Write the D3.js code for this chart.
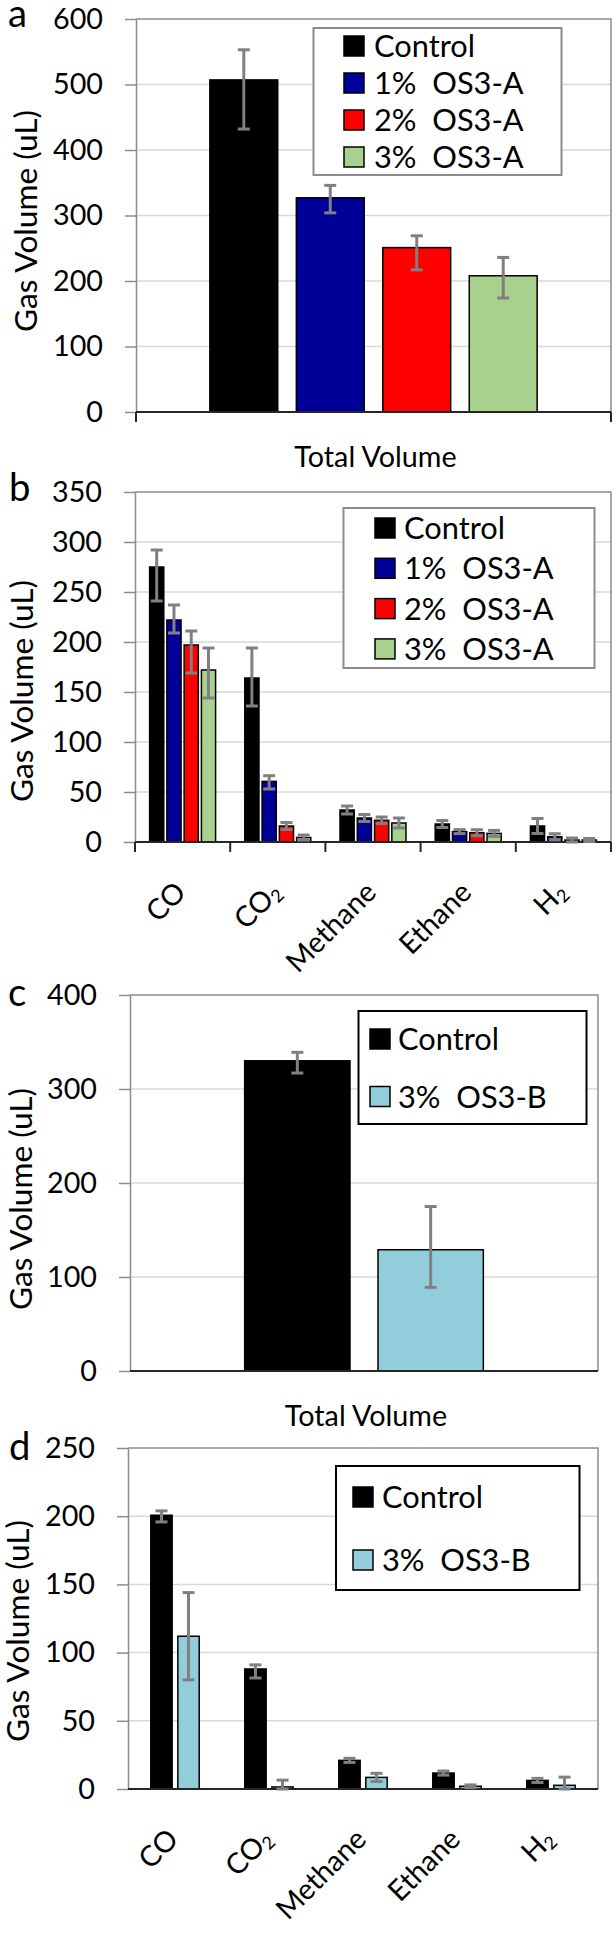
<!DOCTYPE html>
<html><head><meta charset="utf-8">
<script src="https://cdn.jsdelivr.net/npm/d3@7"></script>
<style>
body{margin:0;background:#fff}
svg{display:block}
text{font-family:Lato,'Open Sans',sans-serif;fill:#000}
</style>
</head><body><svg id="chart" width="616" height="1934"></svg>
<script>
// ---------------- DATA ----------------
const gasCategories = ["CO", "CO2", "Methane", "Ethane", "H2"];
const totalCategory = ["Total Volume"];
const seriesA = ["Control", "1%  OS3-A", "2%  OS3-A", "3%  OS3-A"];
const seriesB = ["Control", "3%  OS3-B"];
const yTicksA = [0, 100, 200, 300, 400, 500, 600];
const yTicksB = [0, 50, 100, 150, 200, 250, 300, 350];
const yTicksC = [0, 100, 200, 300, 400];
const yTicksD = [0, 50, 100, 150, 200, 250];
const yTitle = "Gas Volume (uL)";

// panel a : total volume, one value per series
const totalA = [507, 327, 251, 208];
const totalAErrUp = [46, 19, 18, 28];
const totalAErrDown = [75, 23, 34, 34];

// panel b : per series, values across gasCategories
const controlB = [275, 164, 32, 18, 16];
const controlBErrUp = [17, 30, 4, 3.5, 7.5];
const controlBErrDown = [34, 28, 4, 3.5, 7.5];
const os3a1B = [222, 60.6, 24, 10.4, 5.3];
const os3a1BErrUp = [15, 5.7, 3.5, 2, 3];
const os3a1BErrDown = [13, 7.6, 3.5, 2, 3];
const os3a2B = [197, 16, 21.7, 9.3, 2];
const os3a2BErrUp = [14, 3.5, 3.3, 3, 2];
const os3a2BErrDown = [28, 3.5, 3.3, 3, 2];
const os3a3B = [172, 4.5, 19, 8.6, 2];
const os3a3BErrUp = [22, 2.5, 5, 3, 1.5];
const os3a3BErrDown = [28, 2.5, 5, 3, 1.5];

// panel c : total volume
const totalC = [330, 129];
const totalCErrUp = [9, 46];
const totalCErrDown = [13, 40];

// panel d : per series, values across gasCategories
const controlD = [200.7, 88, 21, 11.7, 6.3];
const controlDErrUp = [3.2, 3, 1.5, 1.5, 1.5];
const controlDErrDown = [4.9, 6.6, 1.5, 1.5, 1.5];
const os3bD = [112, 1.5, 8.5, 2, 2.7];
const os3bDErrUp = [32, 5, 3, 1, 6];
const os3bDErrDown = [32, 5, 3, 1, 6];

// ---------------- STYLE ----------------
const colorsA = ["#000000", "#000099", "#ff0000", "#a9d18e"];
const colorsB = ["#000000", "#92cddc"];
const svg = d3.select("#chart");

// font sizes fitted to the widths seen in the reference
function fit(str, target) {
  const p = svg.append("text").attr("font-size", 100).style("white-space", "pre").text(str);
  const w = p.node().getComputedTextLength();
  p.remove();
  return 100 * target / w;
}
const FS_TICK = fit("600", 50);
const FS_LEG = fit("Control", 101);
const FS_TITLE = fit(yTitle, 222);
const FS_CAT = FS_TICK;
const FS_LETTER = fit("a", 19);

function catLabel(sel, label) {
  const m = label.match(/^(.*?)(\d)$/);
  if (m) {
    sel.text(m[1]);
    sel.append("tspan").attr("font-size", FS_CAT * 0.62).attr("dy", "0.2em").text(m[2]);
  } else sel.text(label);
}

function drawPanel(o) {
  const g = svg.append("g");
  const y = d3.scaleLinear().domain([0, o.yMax]).range([o.bottom, o.top]).clamp(true);
  const x0 = d3.scaleBand().domain(o.cats).range([o.left, o.right]).padding(0);
  const gw = x0.bandwidth() * o.groupFrac;
  const x1 = d3.scaleBand().domain(o.series).range([-gw / 2, gw / 2]).paddingInner(o.pad);

  // gridlines
  g.selectAll(".grid").data(o.ticks.filter(t => t > 0 && t < o.yMax)).join("line")
    .attr("x1", o.left).attr("x2", o.right)
    .attr("y1", d => y(d)).attr("y2", d => y(d))
    .attr("stroke", "#d9d9d9").attr("stroke-width", 1.5);
  // plot border (top/right)
  g.append("path").attr("d", `M${o.left},${y(o.yMax)}H${o.right}V${y(0)}`)
    .attr("fill", "none").attr("stroke", "#8c8c8c").attr("stroke-width", 1.5);

  // y axis
  const ax = g.append("g").attr("transform", `translate(${o.left},0)`)
    .call(d3.axisLeft(y).tickValues(o.ticks).tickSize(11).tickSizeOuter(0).tickPadding(22));
  ax.attr("font-size", FS_TICK).attr("font-family", "Lato, sans-serif");
  ax.select(".domain").attr("stroke", "#8c8c8c").attr("stroke-width", 1.5);
  ax.selectAll(".tick line").attr("stroke", "#8c8c8c").attr("stroke-width", 1.5);
  ax.selectAll(".tick text").attr("fill", "#000");

  // bars
  const cells = [];
  o.series.forEach((s, si) => o.cats.forEach((c, ci) => cells.push({
    s, c, si, v: o.values[si][ci], up: o.up[si][ci], dn: o.down[si][ci]
  })));
  g.selectAll(".bar").data(cells).join("rect")
    .attr("x", d => x0(d.c) + x0.bandwidth() / 2 + x1(d.s))
    .attr("width", x1.bandwidth())
    .attr("y", d => y(d.v))
    .attr("height", d => y(0) - y(d.v))
    .attr("fill", d => o.colors[d.si])
    .attr("stroke", "#000").attr("stroke-width", 1.5);

  // x axis line
  g.append("line").attr("x1", o.left).attr("x2", o.right).attr("y1", y(0)).attr("y2", y(0))
    .attr("stroke", "#262626").attr("stroke-width", 2);
  if (o.xTicks) {
    const bounds = o.cats.map(c => x0(c)).concat([o.right]);
    g.selectAll(".xt").data(bounds).join("line")
      .attr("x1", d => d).attr("x2", d => d).attr("y1", y(0)).attr("y2", y(0) + 10)
      .attr("stroke", "#262626").attr("stroke-width", 2);
  }

  // error bars
  const eb = g.selectAll(".eb").data(cells).join("g")
    .attr("transform", d => `translate(${x0(d.c) + x0.bandwidth() / 2 + x1(d.s) + x1.bandwidth() / 2},0)`)
    .attr("stroke", "#808080").attr("stroke-width", 3);
  eb.append("line").attr("y1", d => y(d.v + d.up)).attr("y2", d => y(d.v - d.dn));
  eb.append("line").attr("x1", -6).attr("x2", 6).attr("y1", d => y(d.v + d.up)).attr("y2", d => y(d.v + d.up));
  eb.append("line").attr("x1", -6).attr("x2", 6).attr("y1", d => y(d.v - d.dn)).attr("y2", d => y(d.v - d.dn));

  // category labels
  if (o.rotated) {
    o.cats.forEach(c => {
      const t = g.append("text").attr("font-size", FS_CAT).attr("text-anchor", "end")
        .attr("transform", `translate(${x0(c) + x0.bandwidth() / 2 + 5},${y(0) + 52}) rotate(-45)`);
      catLabel(t, c);
    });
  } else {
    o.cats.forEach(c => {
      g.append("text").attr("font-size", FS_TICK).attr("text-anchor", "middle")
        .attr("x", x0(c) + x0.bandwidth() / 2 + 2).attr("y", y(0) + 55).text(c);
    });
  }

  // y title
  g.append("text").attr("font-size", FS_TITLE).attr("text-anchor", "middle")
    .attr("transform", `translate(${o.titleX},${o.titleY}) rotate(-90)`).text(yTitle);

  // panel letter
  g.append("text").attr("font-size", FS_LETTER).attr("x", o.letterX).attr("y", o.letterY).text(o.letter);

  // legend
  const L = o.legend;
  g.append("rect").attr("x", L.x).attr("y", L.y).attr("width", L.w).attr("height", L.h)
    .attr("fill", "#fff").attr("stroke", L.stroke).attr("stroke-width", 2);
  const rows = g.selectAll(".lg").data(o.series).join("g")
    .attr("transform", (d, i) => `translate(0,${L.row0 + i * L.step})`);
  rows.append("rect").attr("x", L.sx).attr("y", -10).attr("width", 20).attr("height", 20)
    .attr("fill", (d, i) => o.colors[i]).attr("stroke", "#000").attr("stroke-width", 1.5);
  rows.append("text").attr("x", L.tx).attr("dy", "0.36em").attr("font-size", FS_LEG)
    .style("white-space", "pre").text(d => d);
}

drawPanel({
  letter: "a", letterX: 8, letterY: 27,
  top: 19, bottom: 412, left: 136, right: 611, yMax: 600, ticks: yTicksA,
  cats: totalCategory, series: seriesA, colors: colorsA,
  values: totalA.map(v => [v]), up: totalAErrUp.map(v => [v]), down: totalAErrDown.map(v => [v]),
  groupFrac: 0.689, pad: 0.215, xTicks: true, rotated: false,
  titleX: 37, titleY: 221,
  legend: { x: 313.5, y: 28, w: 248, h: 147, stroke: "#8c8c8c", row0: 46, step: 37, sx: 344, tx: 374 }
});
drawPanel({
  letter: "b", letterX: 9, letterY: 501,
  top: 492, bottom: 842, left: 135, right: 611, yMax: 350, ticks: yTicksB,
  cats: gasCategories, series: seriesA, colors: colorsA,
  values: [controlB, os3a1B, os3a2B, os3a3B],
  up: [controlBErrUp, os3a1BErrUp, os3a2BErrUp, os3a3BErrUp],
  down: [controlBErrDown, os3a1BErrDown, os3a2BErrDown, os3a3BErrDown],
  groupFrac: 0.693, pad: 0.18, xTicks: true, rotated: true,
  titleX: 33, titleY: 691,
  legend: { x: 343.5, y: 508, w: 251, h: 160, stroke: "#8c8c8c", row0: 528, step: 40.3, sx: 375, tx: 404 }
});
drawPanel({
  letter: "c", letterX: 8, letterY: 1006,
  top: 995, bottom: 1371, left: 130, right: 598, yMax: 400, ticks: yTicksC,
  cats: totalCategory, series: seriesB, colors: colorsB,
  values: totalC.map(v => [v]), up: totalCErrUp.map(v => [v]), down: totalCErrDown.map(v => [v]),
  groupFrac: 0.51, pad: 0.21, xTicks: false, rotated: false,
  titleX: 32, titleY: 1199,
  legend: { x: 358.5, y: 1011, w: 228, h: 113, stroke: "#000", row0: 1039, step: 57.5, sx: 370, tx: 398 }
});
drawPanel({
  letter: "d", letterX: 9, letterY: 1460,
  top: 1448, bottom: 1789, left: 128, right: 598, yMax: 250, ticks: yTicksD,
  cats: gasCategories, series: seriesB, colors: colorsB,
  values: [controlD, os3bD], up: [controlDErrUp, os3bDErrUp], down: [controlDErrDown, os3bDErrDown],
  groupFrac: 0.515, pad: 0.21, xTicks: false, rotated: true,
  titleX: 29, titleY: 1631,
  legend: { x: 336, y: 1466, w: 243.5, h: 124, stroke: "#000", row0: 1497, step: 63, sx: 353, tx: 382 }
});
</script>
</body></html>
